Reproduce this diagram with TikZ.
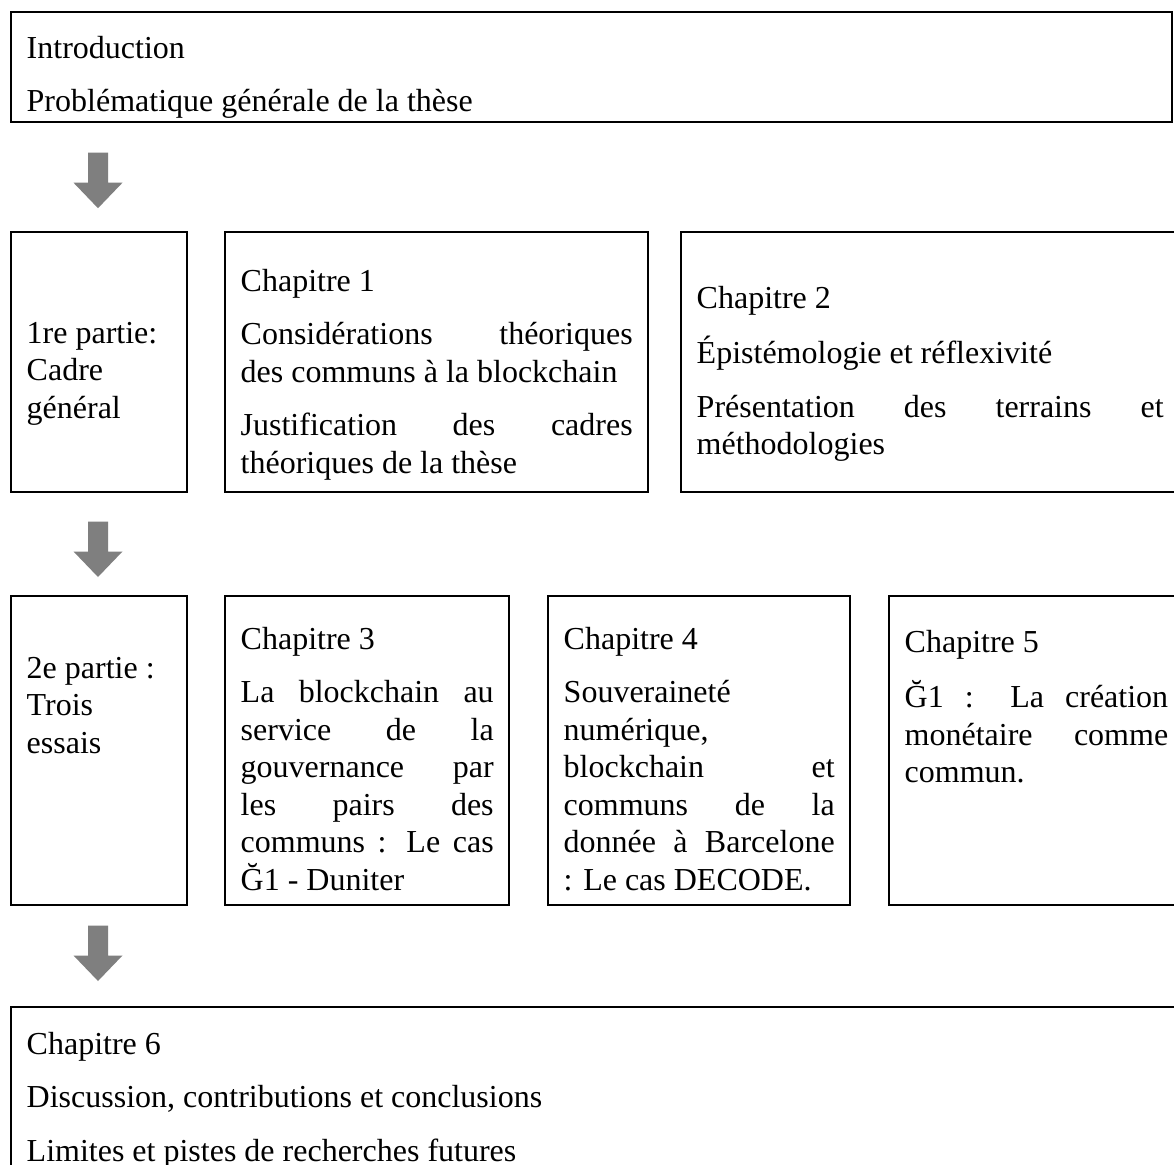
\documentclass[tikz,border=0pt]{standalone}
\usepackage{fontspec}
\setmainfont{Liberation Serif}
\usepackage{tikz}
\definecolor{arrowgray}{RGB}{127,127,127}
\def\boxfont{\fontsize{32}{37.5}\selectfont\setlength{\parindent}{0pt}\setlength{\parskip}{16pt}}
\def\blockarrow#1{\fill[arrowgray] (#1) ++(-10,0) -- ++(20,0) -- ++(0,30) -- ++(14.5,0) -- ++(-24.5,25.5) -- ++(-24.5,-25.5) -- ++(14.5,0) -- cycle;}

\tikzset{
  box/.style={draw, line width=2.7pt, anchor=north west, inner sep=0pt, outer sep=0pt},
  boxtext/.style={anchor=north west, inner sep=0pt, align=justify, font=\boxfont}
}

\begin{document}
\begin{tikzpicture}[x=1pt,y=-1pt]
  \clip (0,0) rectangle (1174,1164);
  \fill[white] (0,0) rectangle (1174,1164);
  % boxes
  \node[box, minimum width=1161pt, minimum height=110pt] (intro) at (11,12) {};
  \node[box, minimum width=176pt, minimum height=260pt] (partone) at (11,232) {};
  \node[box, minimum width=423pt, minimum height=260pt] (chapone) at (225,232) {};
  \node[box, minimum width=498pt, minimum height=260pt] (chaptwo) at (681,232) {};
  \node[box, minimum width=176pt, minimum height=309pt] (parttwo) at (11,596) {};
  \node[box, minimum width=284pt, minimum height=309pt] (chapthree) at (225,596) {};
  \node[box, minimum width=302pt, minimum height=309pt] (chapfour) at (548,596) {};
  \node[box, minimum width=295pt, minimum height=309pt] (chapfive) at (889,596) {};
  \node[box, minimum width=1169pt, minimum height=168pt] (chapsix) at (11,1007) {};
  % texts
  \node[boxtext, text width=1130pt] (introtext) at (26.5,31.75)
    {\strut Introduction\par Problématique générale de la thèse};
  \node[boxtext, text width=145pt] (partonetext) at (26.5,316.75)
    {\strut 1re partie:\newline Cadre\newline général};
  \node[boxtext, text width=392pt] (chaponetext) at (240.5,264.75)
    {\strut Chapitre 1\par Considérations théoriques\linebreak des communs à la blockchain\par
     Justification des cadres\linebreak théoriques de la thèse};
  \node[boxtext, text width=467pt] (chaptwotext) at (696.5,281.75)
    {\strut Chapitre 2\par Épistémologie et réflexivité\par Présentation des terrains et\linebreak méthodologies};
  \node[boxtext, text width=145pt] (parttwotext) at (26.5,651.75)
    {\strut 2e partie :\newline Trois\newline essais};
  \node[boxtext, text width=253pt] (chapthreetext) at (240.5,622.75)
    {\strut Chapitre 3\par La blockchain au\linebreak service de la\linebreak gouvernance par\linebreak
     les pairs des\linebreak communs : Le cas\linebreak Ğ1 - Duniter};
  \node[boxtext, text width=271pt] (chapfourtext) at (563.5,622.75)
    {\strut Chapitre 4\par Souveraineté\newline numérique,\newline blockchain et\linebreak
     communs de la\linebreak donnée à Barcelone\linebreak : Le cas DECODE.};
  \node[boxtext, text width=263.5pt] (chapfivetext) at (904.5,625.75)
    {\strut Chapitre 5\par Ğ1 : La création\linebreak monétaire comme\linebreak commun.};
  \node[boxtext, text width=1130pt] (chapsixtext) at (26.5,1027.75)
    {\strut Chapitre 6\par Discussion, contributions et conclusions\par Limites et pistes de recherches futures};
  % arrows
  \coordinate (arrowone) at (98,152.7);
  \coordinate (arrowtwo) at (98,521.5);
  \coordinate (arrowthree) at (98,925.5);
  \blockarrow{arrowone}
  \blockarrow{arrowtwo}
  \blockarrow{arrowthree}
\end{tikzpicture}
\end{document}
